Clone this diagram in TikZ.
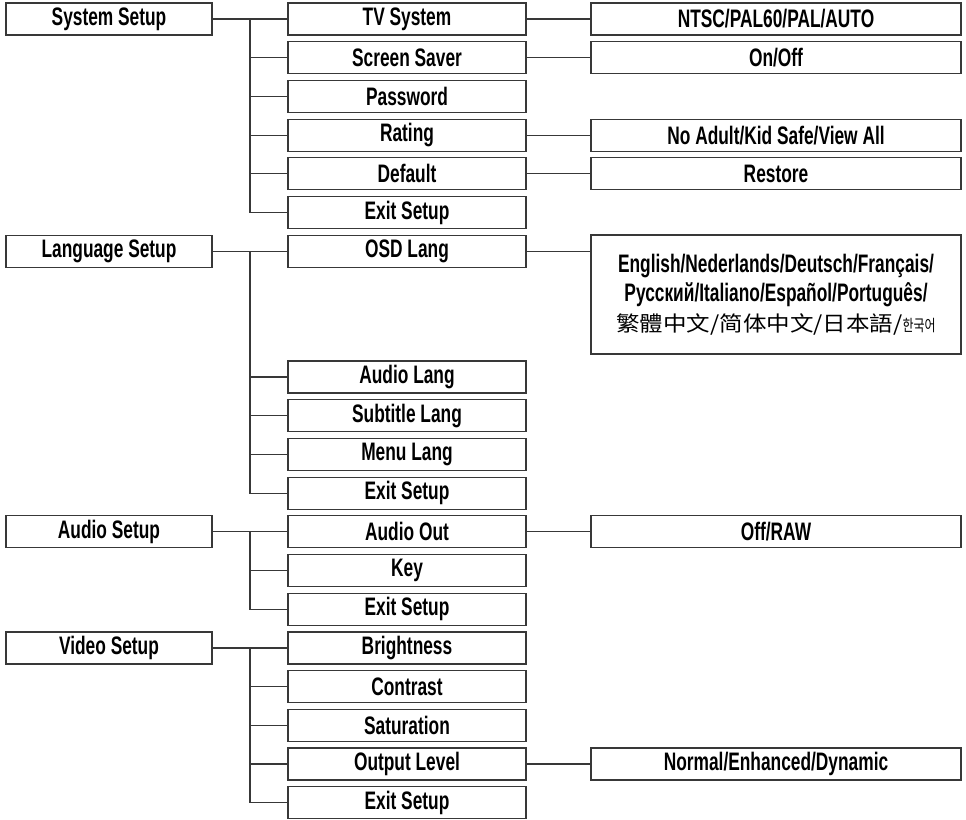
\documentclass[tikz,border=0pt]{standalone}
\usepackage{fontspec}
\setmainfont{Liberation Sans}[FakeStretch=0.685]
\newfontfamily\cjkfont{Noto Sans CJK SC}[FakeStretch=1.12]
\newfontfamily\kofont{Noto Sans CJK KR}[FakeStretch=0.75]
\begin{document}
\begin{tikzpicture}[x=1pt,y=-1pt,
  box/.style={draw=black!78, line width=1.2pt, inner sep=0pt, minimum height=32pt,
    font=\fontsize{25.3}{29.5}\selectfont\bfseries},
  rootbox/.style={box, minimum width=206pt},
  subbox/.style={box, minimum width=238pt},
  leafbox/.style={box, minimum width=370pt},
  link/.style={draw=black!78, line width=1.2pt}]
\useasboundingbox (0,0) rectangle (966,819);
\fill[white] (0,0) rectangle (966,819);
% roots
\node[rootbox] (rs) at (109,19) {System Setup};
\node[rootbox] (rl) at (109,251.2) {Language Setup};
\node[rootbox] (ra) at (109,531.8) {Audio Setup};
\node[rootbox] (rv) at (109,647.9) {Video Setup};
% second level
\node[subbox] (s0) at (407,19) {TV System};
\node[subbox] (s1) at (407,57.7) {Screen Saver};
\node[subbox] (s2) at (407,96.4) {Password};
\node[subbox] (s3) at (407,135.1) {Rating};
\node[subbox] (s4) at (407,173.8) {Default};
\node[subbox] (s5) at (407,212.5) {Exit Setup};
\node[subbox] (l0) at (407,251.2) {OSD Lang};
\node[subbox] (l1) at (407,377) {Audio Lang};
\node[subbox] (l2) at (407,415.7) {Subtitle Lang};
\node[subbox] (l3) at (407,454.4) {Menu Lang};
\node[subbox] (l4) at (407,493.1) {Exit Setup};
\node[subbox] (a0) at (407,531.8) {Audio Out};
\node[subbox] (a1) at (407,570.5) {Key};
\node[subbox] (a2) at (407,609.2) {Exit Setup};
\node[subbox] (v0) at (407,647.9) {Brightness};
\node[subbox] (v1) at (407,686.6) {Contrast};
\node[subbox] (v2) at (407,725.3) {Saturation};
\node[subbox] (v3) at (407,764) {Output Level};
\node[subbox] (v4) at (407,802.7) {Exit Setup};
% third level
\node[leafbox] (t0) at (776,19) {NTSC/PAL60/PAL/AUTO};
\node[leafbox] (t1) at (776,57.7) {On/Off};
\node[leafbox] (t3) at (776,135.1) {No Adult/Kid Safe/View All};
\node[leafbox] (t4) at (776,173.8) {Restore};
\node[leafbox, minimum height=119pt, align=center] (tl) at (776,294.5)
  {English/Nederlands/Deutsch/Français/\\Русский/Italiano/Español/Português/\\
   {\mdseries\cjkfont\fontsize{21}{29.5}\selectfont 繁體中文/简体中文/日本語/}{\mdseries\kofont\fontsize{16}{29.5}\selectfont 한국어}};
\node[leafbox] (ta) at (776,531.8) {Off/RAW};
\node[leafbox] (tv) at (776,764) {Normal/Enhanced/Dynamic};
% trunks
\coordinate (js) at (250,19);
\coordinate (jl) at (250,251.2);
\coordinate (ja) at (250,531.8);
\coordinate (jv) at (250,647.9);
\draw[link] (rs.east) -- (s0.west);
\draw[link] (rl.east) -- (l0.west);
\draw[link] (ra.east) -- (a0.west);
\draw[link] (rv.east) -- (v0.west);
\draw[link] (js) |- (s5.west);
\draw[link] (jl) |- (l4.west);
\draw[link] (ja) |- (a2.west);
\draw[link] (jv) |- (v4.west);
\foreach \n in {s1,s2,s3,s4} \draw[link] (js |- \n.west) -- (\n.west);
\foreach \n in {l1,l2,l3} \draw[link] (jl |- \n.west) -- (\n.west);
\foreach \n in {a1} \draw[link] (ja |- \n.west) -- (\n.west);
\foreach \n in {v1,v2,v3} \draw[link] (jv |- \n.west) -- (\n.west);
% leaf links
\draw[link] (s0.east) -- (t0.west);
\draw[link] (s1.east) -- (t1.west);
\draw[link] (s3.east) -- (t3.west);
\draw[link] (s4.east) -- (t4.west);
\draw[link] (l0.east) -- (l0.east -| tl.west);
\draw[link] (a0.east) -- (ta.west);
\draw[link] (v3.east) -- (tv.west);
\end{tikzpicture}
\end{document}
